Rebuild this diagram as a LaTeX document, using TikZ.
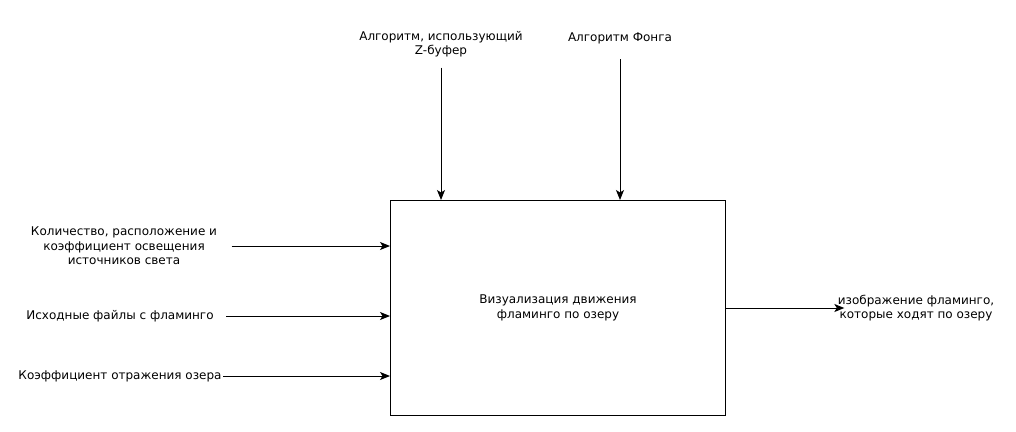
\documentclass[tikz,border=0pt]{standalone}
\usepackage{fontspec}
\setmainfont{DejaVu Sans}
\usetikzlibrary{arrows.meta,positioning}

\begin{document}
\begin{tikzpicture}[x=1pt,y=-1pt,>={Stealth[length=10pt,width=8pt,inset=2.5pt]},line width=1pt,
  every node/.style={font=\fontsize{12}{14.5}\selectfont,align=center,inner sep=0pt}]
  \useasboundingbox (0,0) rectangle (1016,431);
  % main block
  \node[draw,minimum width=335pt,minimum height=215pt,anchor=north west] (viz) at (390,200)
    {Визуализация движения\\фламинго по озеру};
  % controls
  \node (zbuf) at (441,44) {Алгоритм, использующий\\Z-буфер};
  \node (phong) at (620,38) {Алгоритм Фонга};
  % inputs
  \node (lights) at (124,246) {Количество, расположение и\\коэффициент освещения\\источников света};
  \node (files) at (120,316) {Исходные файлы с фламинго};
  \node (refl) at (120,376) {Коэффициент отражения озера};
  % output
  \node (result) at (916,308) {изображение фламинго,\\которые ходят по озеру};

  \draw[->,shorten <=10pt] (zbuf.south) -- (zbuf.south |- viz.north);
  \draw[->,shorten <=15pt] (phong.south) -- (phong.south |- viz.north);
  \draw[->,shorten <=14pt] (lights.east) -- (lights.east -| viz.west);
  \draw[->,shorten <=12pt] (files.east) -- (files.east -| viz.west);
  \draw[->,shorten <=1pt] (refl.east) -- (refl.east -| viz.west);
  \draw[->,shorten >=-7pt] (viz.east) -- (viz.east -| result.west);
\end{tikzpicture}
\end{document}
